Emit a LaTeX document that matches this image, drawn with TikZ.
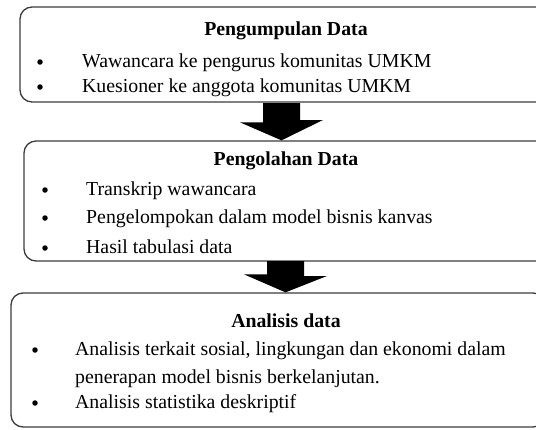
\documentclass[tikz,border=0pt]{standalone}
\usepackage{fontspec}
\setmainfont{Liberation Serif}
\usetikzlibrary{calc}
\definecolor{framegray}{RGB}{60,60,60}

\begin{document}
\begin{tikzpicture}[
  x=1pt,
  y=-1pt,
  stage/.style={
    draw=framegray,
    line width=1.3pt,
    rounded corners=12pt,
    inner sep=0pt
  },
  head/.style={
    font=\fontsize{19.8}{24}\selectfont\bfseries,
    anchor=base,
    inner sep=0pt
  },
  item/.style={
    font=\fontsize{19.8}{24}\selectfont,
    anchor=base west,
    inner sep=0pt
  },
  dot/.style={
    circle,
    fill=black,
    inner sep=0pt,
    minimum size=5.5pt
  },
  flow/.style={
    fill=black
  }
]
\useasboundingbox (0,0) rectangle (536,429);

% Stages
\node[stage,minimum width=530pt,minimum height=95pt] (s1) at (285,54.5) {};
\node[stage,minimum width=526pt,minimum height=120pt] (s2) at (287,201) {};
\node[stage,minimum width=534pt,minimum height=134pt] (s3) at (278,360) {};

% Pengumpulan Data
\node[head] (h1) at (286,35) {Pengumpulan Data};
\node[dot] (d11) at (40,62) {};
\node[item] (i11) at (82,67) {Wawancara ke pengurus komunitas UMKM};
\node[dot] (d12) at (40,87) {};
\node[item] (i12) at (82,92) {Kuesioner ke anggota komunitas UMKM};

% Pengolahan Data
\node[head] (h2) at (286,165) {Pengolahan Data};
\node[dot] (d21) at (45,190) {};
\node[item] (i21) at (86,195) {Transkrip wawancara};
\node[dot] (d22) at (45,218) {};
\node[item] (i22) at (86,223) {Pengelompokan dalam model bisnis kanvas};
\node[dot] (d23) at (45,248) {};
\node[item] (i23) at (86,253) {Hasil tabulasi data};

% Analisis data
\node[head] (h3) at (286,327) {Analisis data};
\node[dot] (d31) at (35,350) {};
\node[item] (i31) at (75,355) {Analisis terkait sosial, lingkungan dan ekonomi dalam};
\node[item] (i32) at (75,383) {penerapan model bisnis berkelanjutan.};
\node[dot] (d33) at (35,403) {};
\node[item] (i33) at (75,408) {Analisis statistika deskriptif};

% Block arrows between stages
\coordinate (a1) at (281.5,103);
\coordinate (a2) at (285.5,261);

\fill[flow] (a1) ++(-18.5,0) -- ++(37,0) -- ++(0,17) -- ++(23,0)
  -- (a1 |- s2.north) -- ++(-41.5,-18) -- ++(23,0) -- cycle;
\fill[flow] (a2) ++(-18.5,0) -- ++(37,0) -- ++(0,15) -- ++(23,0)
  -- (a2 |- s3.north) -- ++(-41.5,-18) -- ++(23,0) -- cycle;

\end{tikzpicture}
\end{document}
